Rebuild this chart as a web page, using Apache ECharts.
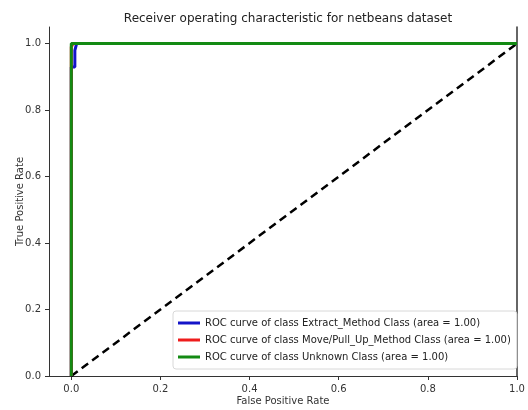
<!DOCTYPE html>
<html>
<head>
<meta charset="utf-8">
<script src="https://cdn.jsdelivr.net/npm/echarts@6/dist/echarts.min.js"></script>
<style>
  html, body { margin: 0; padding: 0; background: #fff; }
  #chart { width: 528px; height: 410px; }
</style>
</head>
<body>
<div id="chart"></div>
<script>
const tickValues = [0, 0.2, 0.4, 0.6, 0.8, 1.0];

const classNames = [
    "ROC curve of class Extract_Method Class (area = 1.00)",
    "ROC curve of class Move/Pull_Up_Method Class (area = 1.00)",
    "ROC curve of class Unknown Class (area = 1.00)",
];
const colors = ["#1414c8", "#ee1c1c", "#138a13"];

// [fpr, tpr] points per class
const extractPoints = [[0, 0], [0, 0.93], [0.008, 0.93], [0.008, 0.98], [0.012, 0.98], [0.012, 1.0], [1.0, 1.0]];
const movePoints = [[0, 0], [0, 0.99], [0.004, 0.99], [0.004, 1.0], [1.0, 1.0]];
const unknownPoints = [[0, 0], [0, 1.0], [1.0, 1.0]];
const diagonalPoints = [[0, 0], [1.0, 1.0]];

const fontFamily = "DejaVu Sans";

const axisLabelOptions = {
    fontFamily,
    fontSize: 10,
    color: "#333",
    customValues: tickValues,
    formatter: (v) => v.toFixed(1),
};

const axisTickOptions = {
    show: true,
    length: 4,
    customValues: tickValues,
    lineStyle: { color: "#333" },
};

let chartDom = document.getElementById("chart");
let myChart = echarts.init(chartDom);

let curves = [extractPoints, movePoints, unknownPoints];
let series = [];
for (let i = 0; i < curves.length; i++) {
    series.push({
        name: classNames[i],
        type: "line",
        data: curves[i],
        showSymbol: false,
        symbol: "none",
        lineStyle: { width: 3, color: colors[i] },
        itemStyle: { color: colors[i] },
        z: 2 + i,
    });
}
series.push({
    name: "diagonal",
    type: "line",
    data: diagonalPoints,
    symbol: "none",
    lineStyle: { width: 2.5, color: "#000", type: [8, 5] },
    z: 1,
});

let option = {
    animation: false,
    textStyle: { fontFamily },
    title: {
        text: "Receiver operating characteristic for netbeans dataset",
        left: 283,
        top: 8,
        textAlign: "center",
        textStyle: { fontFamily, fontSize: 12, fontWeight: "normal", color: "#222" },
    },
    legend: {
        data: classNames,
        orient: "vertical",
        left: 173,
        top: 311,
        icon: "rect",
        itemWidth: 22,
        itemHeight: 3,
        itemGap: 7,
        padding: [7, 6, 7, 5],
        backgroundColor: "#fff",
        borderColor: "#d8d8d8",
        borderWidth: 1,
        borderRadius: 3,
        textStyle: { fontFamily, fontSize: 10, color: "#222" },
    },
    grid: { left: 49, right: 11, top: 27, bottom: 34, outerBoundsMode: "none" },
    xAxis: {
        type: "value",
        min: -0.05,
        max: 1.0,
        name: "False Positive Rate",
        nameLocation: "middle",
        nameGap: 20,
        nameMoveOverlap: false,
        nameTextStyle: { fontFamily, fontSize: 10, color: "#333" },
        splitLine: { show: false },
        axisLine: { show: true, onZero: false, lineStyle: { color: "#333", width: 1 } },
        axisTick: axisTickOptions,
        axisLabel: axisLabelOptions,
    },
    yAxis: [
        {
            type: "value",
            min: 0,
            max: 1.05,
            name: "True Positive Rate",
            nameLocation: "middle",
            nameGap: 24,
            nameMoveOverlap: false,
            nameTextStyle: { fontFamily, fontSize: 10, color: "#333" },
            splitLine: { show: false },
            axisLine: { show: true, onZero: false, lineStyle: { color: "#333", width: 1 } },
            axisTick: axisTickOptions,
            axisLabel: axisLabelOptions,
        },
        {
            type: "value",
            position: "right",
            min: 0,
            max: 1.05,
            splitLine: { show: false },
            axisLine: { show: true, onZero: false, lineStyle: { color: "#333", width: 1.5 } },
            axisTick: { show: false },
            axisLabel: { show: false },
        },
    ],
    series,
};

option && myChart.setOption(option);
</script>
</body>
</html>
